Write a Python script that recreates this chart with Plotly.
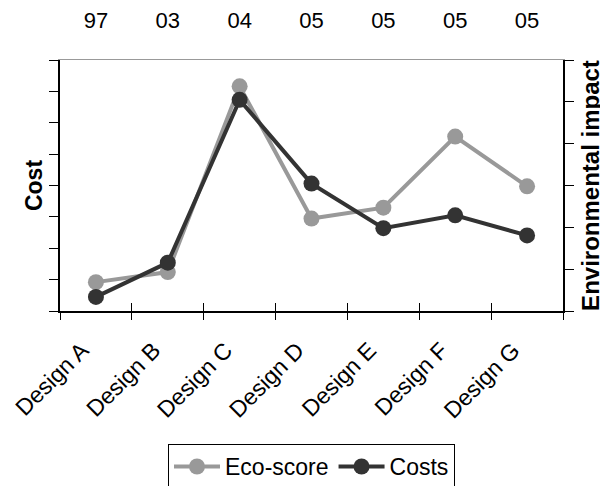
import plotly.graph_objects as go

categories = ["Design A", "Design B", "Design C", "Design D", "Design E", "Design F", "Design G"]
year_labels = ["97", "03", "04", "05", "05", "05", "05"]
eco_score = [0.69, 0.93, 5.37, 2.21, 2.47, 4.17, 2.98]   # environmental impact (right axis, 0-6)
costs = [0.45, 1.54, 6.73, 4.06, 2.64, 3.05, 2.41]       # cost (left axis, 0-8)

FONT = "Liberation Sans, Arial, sans-serif"
GRAY = "#999999"
DARK = "#333333"
n = len(categories)

fig = go.Figure()
fig.add_trace(go.Scatter(
    x=categories, y=eco_score, name="Eco-score", mode="lines+markers",
    line=dict(color=GRAY, width=4), marker=dict(color=GRAY, size=16),
    xaxis="x", yaxis="y"))
fig.add_trace(go.Scatter(
    x=categories, y=costs, name="Costs", mode="lines+markers",
    line=dict(color=DARK, width=4), marker=dict(color=DARK, size=16),
    xaxis="x", yaxis="y2"))
# invisible helper traces so the overlay axes (top labels, crossing ticks) are drawn
fig.add_trace(go.Scatter(x=list(range(n)), y=[None] * n, xaxis="x2", yaxis="y",
                         mode="lines", showlegend=False, hoverinfo="skip"))
fig.add_trace(go.Scatter(x=list(range(n)), y=[None] * n, xaxis="x3", yaxis="y",
                         mode="lines", showlegend=False, hoverinfo="skip"))

fig.update_layout(
    width=600, height=478,
    margin=dict(l=52, r=45, t=52, b=175, autoexpand=False),
    paper_bgcolor="white", plot_bgcolor="white",
    font=dict(family=FONT, color="black", size=22),
    showlegend=True,
    legend=dict(orientation="h", x=0.5, xanchor="center", y=-0.53, yanchor="top",
                bordercolor="black", borderwidth=1, font=dict(size=23),
                itemwidth=46, tracegroupgap=0),
    xaxis=dict(type="category", categoryorder="array", categoryarray=categories,
               range=[-0.5, n - 0.5], tickson="boundaries", ticks="outside", ticklen=7,
               tickwidth=1, tickcolor="black", showline=True, linecolor="black", linewidth=1.5,
               tickangle=-45, showgrid=False, zeroline=False, tickfont=dict(size=23),
               ticklabelshift=-14, ticklabelstandoff=15),
    xaxis2=dict(overlaying="x", side="top", anchor="y", range=[-0.5, n - 0.5],
                tickmode="array", tickvals=list(range(n)), ticktext=year_labels,
                ticks="", showline=True, linecolor="#999999", linewidth=1,
                showgrid=False, zeroline=False, tickfont=dict(size=22),
                ticklabelstandoff=22),
    xaxis3=dict(overlaying="x", side="bottom", anchor="y", range=[-0.5, n - 0.5],
                tickmode="array", tickvals=[i - 0.5 for i in range(n + 1)],
                ticks="inside", ticklen=8, tickcolor="black", tickwidth=1,
                showticklabels=False, showgrid=False, zeroline=False, showline=False),
    yaxis=dict(side="right", range=[0, 6], dtick=1, tick0=0, ticks="outside", ticklen=9,
               tickcolor="black", showticklabels=False, showline=True, linecolor="black",
               linewidth=1.5, showgrid=False, zeroline=False,
               title=dict(text="Environmental impact", standoff=9,
                          font=dict(size=24, weight="bold"))),
    yaxis2=dict(side="left", overlaying="y", anchor="x", range=[0, 8], dtick=1, tick0=0,
                ticks="outside", ticklen=9, tickcolor="black", showticklabels=False,
                showline=True, linecolor="black", linewidth=1.5, showgrid=False,
                zeroline=False,
                title=dict(text="Cost", standoff=0, font=dict(size=23, weight="bold"))),
)

fig.write_html("out.html")
